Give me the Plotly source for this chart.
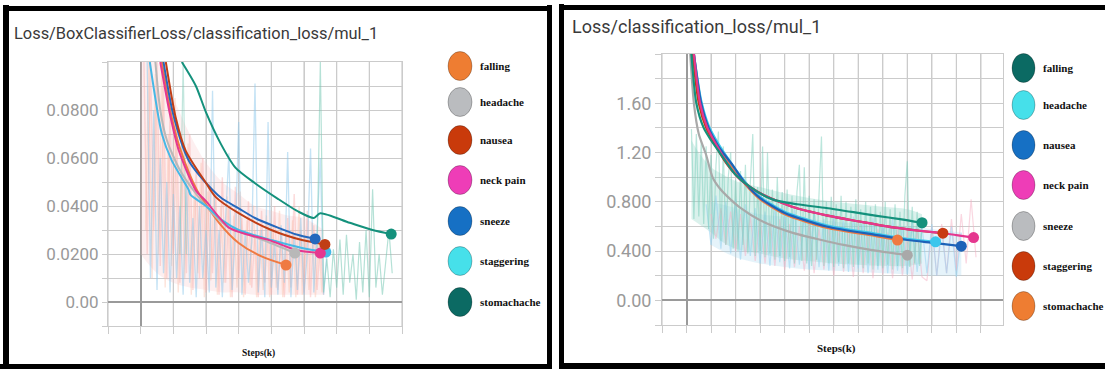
import plotly.graph_objects as go

W, H = 1105, 369

# ---------------- left panel: Loss/BoxClassifierLoss/classification_loss/mul_1
box_title = "Loss/BoxClassifierLoss/classification_loss/mul_1"
box_names = ["falling", "headache", "nausea", "neck pain", "sneeze", "staggering", "stomachache"]

box_falling_steps = [0.65, 0.95, 1.23, 1.72, 2.4, 3.0, 3.7, 4.45]
box_falling_loss = [0.100, 0.077, 0.063, 0.0467, 0.033, 0.0246, 0.019, 0.0154]
box_headache_steps = [0.45, 0.6, 0.8, 1.2, 1.7, 2.2, 2.7, 3.3, 3.9, 4.72]
box_headache_loss = [0.100, 0.080, 0.0675, 0.055, 0.045, 0.037, 0.031, 0.028, 0.025, 0.0204]
box_nausea_steps = [0.77, 1.07, 1.38, 2.0, 2.3, 3.0, 4.0, 4.94, 5.64]
box_nausea_loss = [0.100, 0.077, 0.063, 0.0496, 0.0437, 0.037, 0.030, 0.0258, 0.024]
box_neck_steps = [0.6, 0.9, 1.17, 1.68, 2.0, 2.7, 3.3, 3.93, 4.75, 5.5]
box_neck_loss = [0.100, 0.078, 0.063, 0.0467, 0.042, 0.031, 0.028, 0.0258, 0.0217, 0.0204]
box_sneeze_steps = [0.7, 1.0, 1.47, 2.2, 2.5, 3.0, 3.5, 4.2, 4.8, 5.34]
box_sneeze_loss = [0.100, 0.078, 0.059, 0.0467, 0.043, 0.039, 0.035, 0.031, 0.028, 0.0263]
box_stagger_steps = [0.28, 0.65, 0.95, 1.47, 1.53, 2.0, 2.5, 3.0, 4.0, 4.94, 5.67]
box_stagger_loss = [0.100, 0.070, 0.059, 0.0467, 0.0446, 0.040, 0.034, 0.030, 0.0258, 0.0225, 0.0208]
box_stomach_steps = [1.26, 1.69, 2.0, 2.45, 2.9, 3.5, 4.2, 4.85, 5.3, 5.5, 6.4, 7.1, 7.67]
box_stomach_loss = [0.100, 0.090, 0.079, 0.066, 0.056, 0.0495, 0.043, 0.0375, 0.035, 0.037, 0.033, 0.030, 0.0283]

# raw (unsmoothed) readings, logged every 0.1k steps
box_raw_pink_start = 0.1
box_raw_pink = [0.10, 0.02, 0.10, 0.03, 0.10, 0.015, 0.09, 0.01, 0.08, 0.02, 0.075, 0.008, 0.065, 0.012,
                0.07, 0.005, 0.055, 0.01, 0.06, 0.004, 0.05, 0.012, 0.045, 0.003, 0.052, 0.008, 0.04, 0.002,
                0.048, 0.01, 0.035, 0.003, 0.042, 0.006, 0.03, 0.002, 0.038, 0.008, 0.033, 0.003, 0.04, 0.005,
                0.028, 0.002, 0.035, 0.006, 0.045, 0.003, 0.03, 0.004, 0.038, 0.002, 0.032, 0.005, 0.025, 0.003]
box_raw_salmon_start = 0.15
box_raw_salmon = [0.03, 0.10, 0.01, 0.095, 0.02, 0.10, 0.006, 0.07, 0.015, 0.085, 0.004, 0.06, 0.01, 0.066,
                  0.003, 0.05, 0.012, 0.058, 0.002, 0.046, 0.009, 0.05, 0.003, 0.04, 0.008, 0.044, 0.002,
                  0.036, 0.006, 0.046, 0.002, 0.034, 0.007, 0.04, 0.002, 0.03, 0.005, 0.036, 0.002, 0.032,
                  0.006, 0.038, 0.002, 0.03, 0.004, 0.034, 0.002, 0.04, 0.003, 0.028, 0.005, 0.033, 0.002,
                  0.026, 0.004]
box_raw_blue_start = 0.2
box_raw_blue = [0.10, 0.01, 0.08, 0.005, 0.06, 0.012, 0.05, 0.004, 0.045, 0.01, 0.04, 0.003, 0.05, 0.008,
                0.035, 0.002, 0.04, 0.01, 0.03, 0.004, 0.088, 0.006, 0.03, 0.002, 0.035, 0.062, 0.005, 0.028,
                0.075, 0.003, 0.03, 0.008, 0.025, 0.091, 0.004, 0.03, 0.002, 0.075, 0.006, 0.025, 0.003, 0.032,
                0.008, 0.0625, 0.002, 0.028, 0.005, 0.035, 0.003, 0.02, 0.064, 0.004, 0.03, 0.06, 0.003, 0.02]
box_raw_teal_early_start = 1.2
box_raw_teal_early = [0.02, 0.10, 0.02]
box_raw_teal_start = 5.4
box_raw_teal = [0.02, 0.10, 0.004, 0.018, 0.002, 0.022, 0.006, 0.026, 0.003, 0.028, 0.008, 0.02,
                0.001, 0.025, 0.004, 0.03, 0.002, 0.047, 0.006, 0.02, 0.003, 0.018, 0.03, 0.012]
# spread of the raw readings (min / max per window)
box_band_steps = [0.0, 0.5, 1.0, 1.5, 2.0, 2.5, 3.0, 3.5, 4.0, 4.5, 5.0, 5.6]
box_band_low = [0.02, 0.012, 0.008, 0.006, 0.005, 0.004, 0.004, 0.003, 0.003, 0.003, 0.003, 0.003]
box_band_high = [0.10, 0.10, 0.085, 0.07, 0.058, 0.05, 0.045, 0.04, 0.038, 0.036, 0.035, 0.03]

box_yticks = [-0.01, 0.0, 0.01, 0.02, 0.03, 0.04, 0.05, 0.06, 0.07, 0.08, 0.09, 0.10]
box_ytext = ["", "0.00", "", "0.0200", "", "0.0400", "", "0.0600", "", "0.0800", "", ""]
box_step_grid = [-1, 1, 2, 3, 4, 5, 6, 7, 8]

# ---------------- right panel: Loss/classification_loss/mul_1
cls_title = "Loss/classification_loss/mul_1"
cls_names = ["falling", "headache", "nausea", "neck pain", "sneeze", "staggering", "stomachache"]

cls_falling_steps = [0.2, 0.4, 0.7, 1.0, 1.35, 2.0, 2.6, 3.5, 4.5, 5.7, 7.0, 7.76, 8.7, 9.6]
cls_falling_loss = [2.0, 1.6, 1.4, 1.3, 1.2, 1.02, 0.92, 0.82, 0.78, 0.75, 0.71, 0.686, 0.66, 0.63]
cls_headache_steps = [0.3, 0.6, 0.9, 1.3, 1.87, 2.4, 3.0, 4.0, 5.7, 7.76, 9.0, 10.15]
cls_headache_loss = [2.0, 1.62, 1.42, 1.27, 1.1, 0.96, 0.84, 0.72, 0.61, 0.54, 0.50, 0.475]
cls_nausea_steps = [0.3, 0.6, 0.9, 1.3, 1.87, 2.4, 3.0, 4.0, 5.7, 7.76, 9.0, 10.15, 11.2]
cls_nausea_loss = [2.0, 1.6, 1.4, 1.25, 1.1, 0.95, 0.83, 0.71, 0.60, 0.53, 0.49, 0.465, 0.44]
cls_neck_steps = [0.3, 0.55, 0.85, 1.25, 1.7, 2.2, 3.0, 4.3, 5.7, 7.06, 8.5, 9.5, 10.45, 11.0, 11.7]
cls_neck_loss = [2.0, 1.6, 1.4, 1.25, 1.1, 0.98, 0.87, 0.76, 0.69, 0.64, 0.59, 0.565, 0.545, 0.53, 0.51]
cls_sneeze_steps = [0.15, 0.3, 0.5, 0.8, 1.06, 1.35, 1.63, 2.2, 3.0, 4.3, 5.5, 6.4, 7.5, 9.0]
cls_sneeze_loss = [2.0, 1.6, 1.35, 1.18, 1.0, 0.91, 0.85, 0.75, 0.65, 0.55, 0.49, 0.45, 0.41, 0.367]
cls_stagger_steps = [0.25, 0.5, 0.8, 1.2, 1.67, 2.2, 3.0, 4.3, 5.7, 7.06, 8.5, 9.5, 10.45]
cls_stagger_loss = [2.0, 1.6, 1.4, 1.25, 1.1, 0.98, 0.87, 0.76, 0.69, 0.64, 0.59, 0.565, 0.545]
cls_stomach_steps = [0.3, 0.6, 0.9, 1.3, 1.87, 2.4, 3.0, 4.0, 5.7, 7.76, 8.6]
cls_stomach_loss = [2.0, 1.58, 1.38, 1.23, 1.08, 0.94, 0.82, 0.70, 0.59, 0.52, 0.49]

cls_raw_teal_start, cls_raw_teal_every = 0.2, 0.1
cls_raw_teal = [1.39, 0.66, 1.35, 0.68, 1.30, 0.62, 1.25, 0.58, 1.18, 0.50, 1.10, 1.37, 0.48, 1.25,
                0.45, 1.0, 1.2, 0.42, 0.98, 0.40, 1.05, 0.45, 1.1, 0.38, 0.95, 1.35, 0.36, 0.92, 0.40,
                1.25, 0.35, 1.2, 0.38, 0.9, 0.33, 1.0, 0.36, 0.88, 0.32, 0.9, 0.35, 0.85, 0.30, 0.88,
                1.1, 0.32, 1.08, 0.30, 0.85, 0.28, 0.82, 0.33, 0.86, 1.33, 0.28, 0.80, 0.30, 0.84, 0.27,
                0.78, 0.31, 0.85, 0.26, 0.80, 0.30, 0.76, 0.27, 0.82, 0.29, 0.74, 0.26, 0.80, 0.30, 0.76,
                0.25, 0.78, 0.28, 0.72, 0.26, 0.80, 0.29, 0.74, 0.25, 0.78, 0.28, 0.72, 0.26, 0.85, 1.13,
                0.27, 0.76, 0.30, 0.72, 0.28, 0.62]
cls_raw_blue_start, cls_raw_blue_every = 0.8, 0.2
cls_raw_blue = [0.78, 0.45, 0.85, 0.42, 0.80, 0.38, 0.82, 0.33, 0.78, 0.36, 0.75, 0.30, 0.72, 0.28,
                0.76, 0.31, 0.70, 0.26, 0.74, 0.29, 0.68, 0.25, 0.72, 0.27, 0.66, 0.24, 0.70, 0.28, 0.65,
                0.23, 0.68, 0.26, 0.64, 0.22, 0.67, 0.25, 0.62, 0.22, 0.66, 0.24, 0.60, 0.21, 0.64, 0.23,
                0.60, 0.22, 0.62, 0.20, 0.58, 0.22, 0.60, 0.19, 0.55]
cls_raw_pink_start, cls_raw_pink_every = 1.0, 0.2
cls_raw_pink = [0.70, 0.50, 0.75, 0.45, 0.72, 0.40, 0.70, 0.36, 0.68, 0.32, 0.66, 0.30, 0.64, 0.28,
                0.66, 0.25, 0.62, 0.27, 0.60, 0.24, 0.63, 0.22, 0.58, 0.25, 0.60, 0.20, 0.58, 0.23, 0.56,
                0.19, 0.60, 0.22, 0.57, 0.18, 0.58, 0.21, 0.55, 0.18, 0.60, 0.20, 0.56, 0.17, 0.58, 0.19,
                0.16, 0.60, 0.20, 0.62, 0.22, 0.66, 0.24, 0.70, 0.30, 0.82, 0.35]
cls_teal_band_steps = [0.2, 0.5, 1.0, 1.5, 2.0, 3.0, 4.0, 5.0, 6.0, 7.0, 8.0, 9.0, 9.6]
cls_teal_band_low = [0.66, 0.62, 0.55, 0.47, 0.42, 0.38, 0.34, 0.32, 0.30, 0.29, 0.28, 0.28, 0.30]
cls_teal_band_high = [1.3, 1.2, 1.08, 1.02, 0.97, 0.92, 0.87, 0.83, 0.80, 0.78, 0.76, 0.74, 0.70]
cls_blue_band_steps = [1.0, 2.0, 3.0, 4.0, 5.0, 6.0, 7.0, 8.0, 9.0, 10.0, 11.2]
cls_blue_band_low = [0.45, 0.35, 0.30, 0.27, 0.25, 0.24, 0.23, 0.22, 0.21, 0.20, 0.20]
cls_blue_band_high = [0.80, 0.75, 0.70, 0.68, 0.66, 0.64, 0.62, 0.60, 0.60, 0.58, 0.55]

cls_yticks = [-0.2, 0.0, 0.2, 0.4, 0.6, 0.8, 1.0, 1.2, 1.4, 1.6, 1.8, 2.0]
cls_ytext = ["", "0.00", "", "0.400", "", "0.800", "", "1.20", "", "1.60", "", ""]
cls_step_grid = [-1, 1, 2, 3, 4, 5, 6, 7, 8, 9, 10, 11, 12]

x_label = "Steps(k)"

# ---------------- colours
ORANGE, GRAY, RED, PINK = "#ef7a42", "#b8b8b8", "#c03e16", "#e5378f"
BLUE, CYAN, TEAL = "#2468bd", "#46b8e6", "#14917c"
LEG = {"orange": "#ee7d32", "gray": "#babcbf", "red": "#c93a0b", "pink": "#ee3db7",
       "blue": "#1670c4", "cyan": "#46e0ea", "teal": "#0b6a63"}

box_series = [
    (box_falling_steps, box_falling_loss, ORANGE),
    (box_headache_steps, box_headache_loss, GRAY),
    (box_stagger_steps, box_stagger_loss, CYAN),
    (box_neck_steps, box_neck_loss, PINK),
    (box_sneeze_steps, box_sneeze_loss, BLUE),
    (box_nausea_steps, box_nausea_loss, RED),
    (box_stomach_steps, box_stomach_loss, TEAL),
]
box_legend_colors = [LEG["orange"], LEG["gray"], LEG["red"], LEG["pink"], LEG["blue"], LEG["cyan"], LEG["teal"]]

cls_series = [
    (cls_sneeze_steps, cls_sneeze_loss, "#a9a9a9"),
    (cls_stomach_steps, cls_stomach_loss, ORANGE),
    (cls_headache_steps, cls_headache_loss, "#3cc6ec"),
    (cls_nausea_steps, cls_nausea_loss, "#1d62b8"),
    (cls_stagger_steps, cls_stagger_loss, "#c83a12"),
    (cls_neck_steps, cls_neck_loss, PINK),
    (cls_falling_steps, cls_falling_loss, TEAL),
]
cls_legend_colors = [LEG["teal"], LEG["cyan"], LEG["blue"], LEG["pink"], LEG["gray"], LEG["red"], LEG["orange"]]


def steps_for(start, every, values):
    return [round(start + every * i, 3) for i in range(len(values))]


def px(x):
    return x / W


def py(y):
    return 1 - y / H


fig = go.Figure()


def add_band(steps, low, high, color, xa, ya):
    fig.add_trace(go.Scatter(x=steps, y=low, mode="lines", line=dict(width=0, shape="spline"),
                             xaxis=xa, yaxis=ya, hoverinfo="skip", showlegend=False))
    fig.add_trace(go.Scatter(x=steps, y=high, mode="lines", line=dict(width=0, shape="spline"),
                             fill="tonexty", fillcolor=color, xaxis=xa, yaxis=ya,
                             hoverinfo="skip", showlegend=False))


def add_raw(start, every, values, color, xa, ya, width=1.0):
    fig.add_trace(go.Scatter(x=steps_for(start, every, values), y=values, mode="lines",
                             line=dict(color=color, width=width), xaxis=xa, yaxis=ya,
                             hoverinfo="skip", showlegend=False))


def add_smooth(series, xa, ya, width):
    for steps, loss, color in series:
        fig.add_trace(go.Scatter(x=steps, y=loss, mode="lines",
                                 line=dict(color=color, width=width, shape="spline", smoothing=0.7),
                                 xaxis=xa, yaxis=ya, showlegend=False))
    for steps, loss, color in series:
        fig.add_trace(go.Scatter(x=[steps[-1]], y=[loss[-1]], mode="markers",
                                 marker=dict(color=color, size=11), cliponaxis=False,
                                 xaxis=xa, yaxis=ya, showlegend=False))


# left panel traces
add_band(box_band_steps, box_band_low, box_band_high, "rgba(246,190,196,0.25)", "x", "y")
add_raw(box_raw_pink_start, 0.1, box_raw_pink, "rgba(247,170,170,0.42)", "x", "y", 1.4)
add_raw(box_raw_salmon_start, 0.1, box_raw_salmon, "rgba(250,190,170,0.42)", "x", "y", 1.4)
add_raw(box_raw_blue_start, 0.1, box_raw_blue, "rgba(140,200,236,0.5)", "x", "y", 1.3)
add_raw(box_raw_teal_early_start, 0.1, box_raw_teal_early, "rgba(120,200,180,0.45)", "x", "y", 1.2)
add_raw(box_raw_teal_start, 0.1, box_raw_teal, "rgba(120,200,180,0.55)", "x", "y", 1.2)
add_smooth(box_series, "x", "y", 2)

# right panel traces
add_band(cls_blue_band_steps, cls_blue_band_low, cls_blue_band_high, "rgba(170,215,240,0.30)", "x2", "y2")
add_band(cls_teal_band_steps, cls_teal_band_low, cls_teal_band_high, "rgba(150,215,200,0.35)", "x2", "y2")
add_raw(cls_raw_pink_start, cls_raw_pink_every, cls_raw_pink, "rgba(245,175,195,0.5)", "x2", "y2", 1.2)
add_raw(cls_raw_blue_start, cls_raw_blue_every, cls_raw_blue, "rgba(150,210,240,0.55)", "x2", "y2", 1.2)
add_raw(cls_raw_teal_start, cls_raw_teal_every, cls_raw_teal, "rgba(120,205,185,0.5)", "x2", "y2", 1.2)
add_smooth(cls_series, "x2", "y2", 2.2)

grid = "#cbcbcb"
axis_common = dict(showgrid=True, gridcolor=grid, gridwidth=1, zeroline=True, zerolinecolor="#9a9a9a",
                   zerolinewidth=1.6, showline=True, mirror=True, linecolor=grid, linewidth=1,
                   ticks="outside", tickcolor=grid, fixedrange=True)

fig.update_layout(
    width=W, height=H, margin=dict(l=0, r=0, t=0, b=0),
    paper_bgcolor="white", plot_bgcolor="white", showlegend=False,
    xaxis=dict(domain=[px(108), px(402)], range=[-1, 8], tickmode="linear", dtick=1, tick0=0, ticklen=7,
               showticklabels=False, anchor="y", **axis_common),
    yaxis=dict(domain=[py(326), py(62)], range=[-0.01, 0.10], tickmode="array", tickvals=box_yticks,
               ticktext=box_ytext, ticklen=5, anchor="x",
               tickfont=dict(family="Roboto", size=17, color="#999999"), **axis_common),
    xaxis2=dict(domain=[px(662), px(1003)], range=[-1, 12.9], tickmode="linear", dtick=1, tick0=0, ticklen=7,
                showticklabels=False, anchor="y2", **axis_common),
    yaxis2=dict(domain=[py(325), py(54)], range=[-0.2, 2.0], tickmode="array", tickvals=cls_yticks,
                ticktext=cls_ytext, ticklen=6, anchor="x2",
                tickfont=dict(family="Roboto", size=18, color="#999999"), **axis_common),
)

shapes = []
annotations = []

# vertical step grid lines, drawn beneath the traces
for xref, yref, ks in [("x", "y domain", box_step_grid), ("x2", "y2 domain", cls_step_grid)]:
    for k in ks:
        shapes.append(dict(type="line", xref=xref, yref=yref, x0=k, x1=k, y0=0, y1=1,
                           line=dict(color=grid, width=1.2), layer="below"))


def black_bar(x0, y0, x1, y1):
    shapes.append(dict(type="rect", xref="paper", yref="paper", x0=px(x0), x1=px(x1), y0=py(y1), y1=py(y0),
                       fillcolor="black", line=dict(width=0), layer="above"))


# panel frames
black_bar(3, 5, 9, 369)
black_bar(3, 6, 552, 11)
black_bar(547, 5, 552, 369)
black_bar(0, 364, 552, 369)
black_bar(559, 4, 564, 369)
black_bar(559, 5, 1105, 10)
black_bar(559, 363, 1105, 369)

# titles
annotations.append(dict(text=box_title, x=px(12), y=py(33), xref="paper", yref="paper", xanchor="left",
                        yanchor="middle", showarrow=False, font=dict(family="Roboto", size=16.4, color="#3a3a3a")))
annotations.append(dict(text=cls_title, x=px(570), y=py(27), xref="paper", yref="paper", xanchor="left",
                        yanchor="middle", showarrow=False, font=dict(family="Roboto", size=18, color="#3a3a3a")))

# axis captions
for cx, cy, size in [(258, 353, 9.5), (836, 348, 11)]:
    annotations.append(dict(text="<b>%s</b>" % x_label, x=px(cx), y=py(cy), xref="paper", yref="paper",
                            xanchor="center", yanchor="middle", showarrow=False,
                            font=dict(family="Liberation Serif", size=size, color="#111111")))


def legend(names, colors, cx, ys, rx, ry, tx):
    for name, color, cy in zip(names, colors, ys):
        shapes.append(dict(type="circle", xref="paper", yref="paper", x0=px(cx - rx), x1=px(cx + rx),
                           y0=py(cy + ry), y1=py(cy - ry), fillcolor=color,
                           line=dict(color="rgba(0,0,0,0.25)", width=1), layer="above"))
        annotations.append(dict(text="<b>%s</b>" % name, x=px(tx), y=py(cy), xref="paper", yref="paper",
                                xanchor="left", yanchor="middle", showarrow=False,
                                font=dict(family="Liberation Serif", size=11, color="#111111")))


legend(box_names, box_legend_colors, 460, [66, 102, 140, 180, 221, 261, 302], 12, 14.5, 478)
legend(cls_names, cls_legend_colors, 1023.5, [68, 105, 145, 185, 226, 266, 306], 11.5, 14.5, 1041)

fig.update_layout(shapes=shapes, annotations=annotations)
fig.write_html("out.html")
